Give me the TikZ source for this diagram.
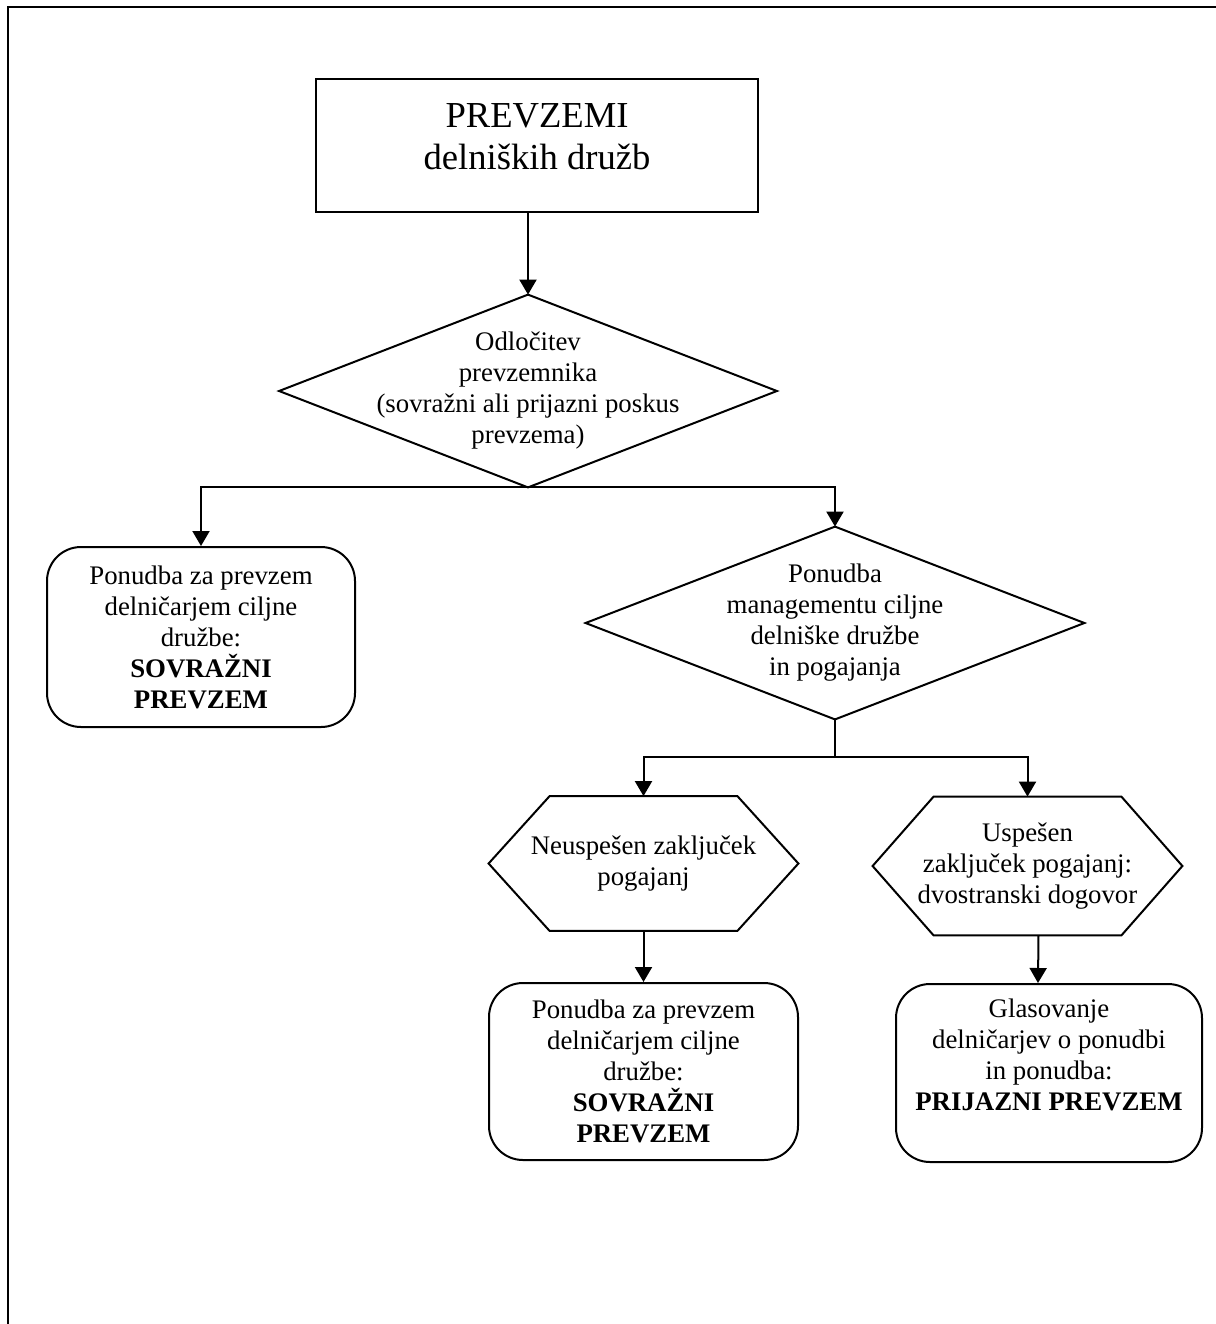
\documentclass[tikz,border=0pt]{standalone}
\usepackage{fontspec}
\setmainfont{Liberation Serif}
\usetikzlibrary{arrows.meta}

\newcommand{\hexoutline}[1]{%
	\draw[shapeline] (#1.west) -- ([xshift=30.5pt]#1.north west) -- ([xshift=-30.5pt]#1.north east)
		-- (#1.east) -- ([xshift=-30.5pt]#1.south east) -- ([xshift=30.5pt]#1.south west) -- cycle;}
\newcommand{\diaoutline}[1]{%
	\draw[shapeline] (#1.north) -- (#1.east) -- (#1.south) -- (#1.west) -- cycle;}

\begin{document}
\begin{tikzpicture}[x=0.5pt, y=-0.5pt,
		shapeline/.style={line width=1pt},
		txt/.style={align=center, inner sep=0pt, font=\fontsize{13.4}{15.5}\selectfont},
		roundbox/.style={txt, draw, line width=1pt, rounded corners=17pt},
		flow/.style={line width=1pt, -{Triangle[length=7.5pt,width=8.5pt]}}]
		\useasboundingbox (0,0) rectangle (1216,1324);
		\draw[line width=1.2pt] (1216,7) -- (8,7) -- (8,1324);
		\node[txt, draw, line width=1pt, minimum width=221pt, minimum height=66.5pt, font=\fontsize{18.3}{21}\selectfont] (title) at (537,145.5) {PREVZEMI\\delniških družb\rule[-9pt]{0pt}{0pt}};
		\node[txt, minimum width=248.5pt, minimum height=96pt] (decide) at (528,391) {Odločitev\\prevzemnika\\(sovražni ali prijazni poskus\\prevzema)};
		\diaoutline{decide}
		\node[roundbox, minimum width=154pt, minimum height=90pt] (hostileA) at (201,637) {Ponudba za prevzem\\delničarjem ciljne\\družbe:\\\textbf{SOVRAŽNI}\\\textbf{PREVZEM}};
		\node[txt, minimum width=249pt, minimum height=96pt] (offer) at (835,623) {Ponudba\\managementu ciljne\\delniške družbe\\in pogajanja};
		\diaoutline{offer}
		\coordinate (split) at (835,757);
		\node[txt, minimum width=154.5pt, minimum height=67pt] (fail) at (643.5,863.5) {Neuspešen zaključek\\pogajanj};
		\hexoutline{fail}
		\node[txt, minimum width=154.5pt, minimum height=69pt] (success) at (1027.5,866) {Uspešen\\zaključek pogajanj:\\dvostranski dogovor};
		\hexoutline{success}
		\node[roundbox, minimum width=154.5pt, minimum height=88.5pt] (hostileB) at (643.5,1071.5) {Ponudba za prevzem\\delničarjem ciljne\\družbe:\\\textbf{SOVRAŽNI}\\\textbf{PREVZEM}};
		\node[roundbox, minimum width=153pt, minimum height=89pt] (friendly) at (1049,1073) {Glasovanje\\delničarjev o ponudbi\\in ponudba:\\\textbf{PRIJAZNI PREVZEM}\rule[-18pt]{0pt}{0pt}};
		\draw[flow] (title.south -| decide.north) -- (decide.north);
		\draw[flow] (decide.south) -| (hostileA.north);
		\draw[flow] (decide.south) -| (offer.north);
		\draw[line width=1pt] (offer.south) -- (split);
		\draw[flow] (split) -| (fail.north);
		\draw[flow] (split) -| (success.north);
		\draw[flow] (fail.south) -- (hostileB.north);
		\draw[flow] ([xshift=5.5pt]success.south) -- ([xshift=-5.5pt]friendly.north);
	\end{tikzpicture}
\end{document}
